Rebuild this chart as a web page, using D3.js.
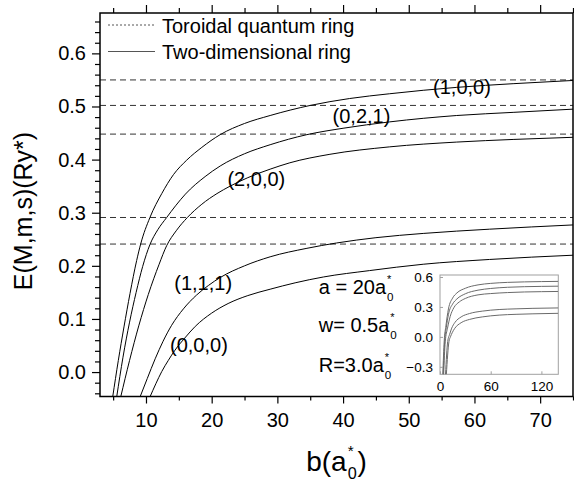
<!DOCTYPE html>
<html>
<head>
<meta charset="utf-8">
<script src="https://cdn.jsdelivr.net/npm/d3@7"></script>
<style>
  body { margin: 0; background: #fff; }
  svg { display: block; font-family: "Liberation Sans", Arial, sans-serif; }
</style>
</head>
<body>
<svg id="chart" width="574" height="487"></svg>
<script>
// Toroidal quantum ring levels (dashed, flat)
const toroidalLevels = [0.550, 0.502, 0.448, 0.291, 0.241];

// Two-dimensional ring, [b, E]
const ring100 = [[4.93,-0.047],[5.79,0.022],[6.65,0.085],[7.57,0.148],[8.58,0.21],[9.19,0.241],[10.6,0.291],[12.4,0.336],[14.2,0.372],[16.2,0.399],[18.5,0.423],[21.3,0.447],[25,0.468],[28.9,0.483],[35,0.502],[41,0.515],[47.1,0.524],[57.3,0.536],[66,0.543],[75,0.549]];
const ring021 = [[5.54,-0.047],[6.5,0.028],[7.5,0.094],[8.5,0.150],[9.5,0.199],[10.6,0.240],[11.8,0.268],[13.15,0.291],[14.5,0.313],[16,0.335],[19,0.368],[21.3,0.388],[25,0.411],[28.9,0.428],[34.5,0.447],[40,0.459],[47.1,0.471],[57.3,0.483],[66,0.489],[75,0.495]];
const ring200 = [[6.15,-0.047],[7.5,0.022],[8.9,0.087],[10.35,0.146],[12,0.203],[13.15,0.238],[14.6,0.266],[16.3,0.291],[18.5,0.316],[20.8,0.336],[22.8,0.350],[25.5,0.366],[28.9,0.382],[31.9,0.394],[38,0.410],[47.1,0.424],[57.3,0.433],[66,0.438],[75,0.442]];
const ring111 = [[9.09,-0.047],[10.2,-0.012],[11.4,0.025],[12.6,0.058],[13.9,0.088],[15.7,0.119],[17.7,0.145],[19.5,0.163],[21.3,0.178],[25,0.200],[28.9,0.217],[34.5,0.233],[39,0.243],[45,0.253],[52.2,0.261],[62.3,0.269],[75,0.277]];
const ring000 = [[10.6,-0.047],[11.5,-0.022],[12.4,0.001],[13.4,0.022],[14.4,0.041],[15.9,0.064],[17.5,0.086],[20,0.111],[22.5,0.129],[25.5,0.144],[28.9,0.156],[32.7,0.168],[37,0.179],[44,0.191],[52.2,0.203],[62.3,0.212],[75,0.220]];

// curve labels and where they sit (data units: b, E)
const curveLabels = ["(1,0,0)", "(0,2,1)", "(2,0,0)", "(1,1,1)", "(0,0,0)"];
const labelB = [53.7, 38.4, 22.4, 14.3, 13.66];
const labelE = [0.5226, 0.468, 0.3494, 0.1546, 0.0369];

// inset: same curves out to b = 140
const inset100 = [[3.3,-0.38],[5,-0.04],[7,0.11],[10,0.28],[15,0.39],[20,0.44],[30,0.487],[45,0.521],[60,0.536],[80,0.546],[100,0.551],[120,0.554],[140,0.556]];
const inset021 = [[3.8,-0.38],[5.5,-0.05],[7.5,0.094],[10,0.225],[15,0.33],[20,0.38],[30,0.432],[45,0.468],[60,0.485],[80,0.497],[100,0.503],[120,0.506],[140,0.508]];
const inset200 = [[4.3,-0.38],[6.2,-0.05],[8.9,0.087],[12,0.203],[16.3,0.291],[22.8,0.35],[30,0.385],[45,0.421],[60,0.434],[80,0.444],[100,0.45],[120,0.453],[140,0.455]];
const inset111 = [[6.5,-0.38],[9.1,-0.047],[11.4,0.025],[13.9,0.088],[17.7,0.145],[25,0.2],[35,0.234],[50,0.258],[70,0.274],[90,0.281],[110,0.286],[140,0.29]];
const inset000 = [[7.5,-0.38],[10.6,-0.047],[12.4,0.001],[14.4,0.041],[17.5,0.086],[25,0.142],[35,0.175],[50,0.2],[70,0.218],[90,0.226],[110,0.231],[140,0.236]];

// ticks
const xMajor = [10, 20, 30, 40, 50, 60, 70];
const xMinor = [5, 15, 25, 35, 45, 55, 65, 75];
const yMajor = [0.0, 0.1, 0.2, 0.3, 0.4, 0.5, 0.6];
const insetXTicks = [0, 60, 120];
const insetYTicks = [-0.3, 0.0, 0.3, 0.6];

const legendItems = ["Toroidal quantum ring", "Two-dimensional ring"];
const paramText = ["a = 20a", "w= 0.5a", "R=3.0a"];

const svg = d3.select("#chart");

// main scales
const x = d3.scaleLinear().domain([3, 75]).range([100, 573]);
const y = d3.scaleLinear().domain([-0.046, 0.676]).range([396.5, 13]);

svg.append("clipPath").attr("id", "plotClip")
  .append("rect")
  .attr("x", x.range()[0]).attr("y", y.range()[1])
  .attr("width", x.range()[1] - x.range()[0])
  .attr("height", y.range()[0] - y.range()[1]);

// minor y ticks every 0.02 (not on the majors)
const yMinor = d3.range(-4, 67, 2).filter(d => d % 10 !== 0).map(d => d / 100);

function styleAxis(g) {
  g.select(".domain").remove();
  g.selectAll("line").attr("stroke", "#000").attr("stroke-width", 1.2);
  g.selectAll("text").attr("fill", "#000").attr("font-size", 20);
}

// bottom axis
svg.append("g").attr("transform", `translate(0,${y.range()[0]})`)
  .call(d3.axisBottom(x).tickValues(xMinor).tickSize(4).tickFormat(""))
  .call(styleAxis);
svg.append("g").attr("transform", `translate(0,${y.range()[0]})`)
  .call(d3.axisBottom(x).tickValues(xMajor).tickSize(7).tickPadding(9).tickFormat(d3.format("d")))
  .call(styleAxis);

// top axis (ticks only)
svg.append("g").attr("transform", `translate(0,${y.range()[1]})`)
  .call(d3.axisTop(x).tickValues(xMinor).tickSize(5).tickFormat(""))
  .call(styleAxis);
svg.append("g").attr("transform", `translate(0,${y.range()[1]})`)
  .call(d3.axisTop(x).tickValues(xMajor).tickSize(8).tickFormat(""))
  .call(styleAxis);

// left axis
svg.append("g").attr("transform", `translate(${x.range()[0]},0)`)
  .call(d3.axisLeft(y).tickValues(yMinor).tickSize(5).tickFormat(""))
  .call(styleAxis);
svg.append("g").attr("transform", `translate(${x.range()[0]},0)`)
  .call(d3.axisLeft(y).tickValues(yMajor).tickSize(8).tickPadding(6).tickFormat(d3.format(".1f")))
  .call(styleAxis);

// toroidal levels
const plot = svg.append("g").attr("clip-path", "url(#plotClip)");
plot.selectAll("line.toroidal")
  .data(toroidalLevels)
  .join("line")
  .attr("class", "toroidal")
  .attr("x1", x.range()[0]).attr("x2", x.range()[1])
  .attr("y1", d => y(d)).attr("y2", d => y(d))
  .attr("stroke", "#333")
  .attr("stroke-width", 1)
  .attr("stroke-dasharray", "6,4");

// 2D ring curves
const line = d3.line().x(d => x(d[0])).y(d => y(d[1])).curve(d3.curveMonotoneX);
plot.selectAll("path.ring")
  .data([ring100, ring021, ring200, ring111, ring000])
  .join("path")
  .attr("class", "ring")
  .attr("d", line)
  .attr("fill", "none")
  .attr("stroke", "#000")
  .attr("stroke-width", 1);

// frame
svg.append("rect")
  .attr("x", x.range()[0]).attr("y", y.range()[1])
  .attr("width", x.range()[1] - x.range()[0])
  .attr("height", y.range()[0] - y.range()[1])
  .attr("fill", "none").attr("stroke", "#000").attr("stroke-width", 1.5);

// curve labels
svg.selectAll("text.curveLabel")
  .data(curveLabels)
  .join("text")
  .attr("class", "curveLabel")
  .attr("x", (d, i) => x(labelB[i]))
  .attr("y", (d, i) => y(labelE[i]))
  .attr("font-size", 20)
  .text(d => d);

// legend
const legend = svg.append("g");
legend.append("line").attr("x1", 108).attr("x2", 155).attr("y1", 25).attr("y2", 25)
  .attr("stroke", "#555").attr("stroke-width", 1).attr("stroke-dasharray", "2,2");
legend.append("line").attr("x1", 108).attr("x2", 155).attr("y1", 51.5).attr("y2", 51.5)
  .attr("stroke", "#555").attr("stroke-width", 1);
legend.selectAll("text")
  .data(legendItems)
  .join("text")
  .attr("x", 162)
  .attr("y", (d, i) => 33 + i * 26)
  .attr("font-size", 20)
  .text(d => d);

// text with a stacked * and 0 after it (a*0)
function starSub(g, x0, y0, txt, size, tail, subDy) {
  const t = g.append("text").attr("x", x0).attr("y", y0).attr("font-size", size).text(txt);
  const w = t.node().getComputedTextLength();
  g.append("text").attr("x", x0 + w + 1).attr("y", y0 - size * 0.54)
    .attr("font-size", size * 0.55).text("*");
  g.append("text").attr("x", x0 + w + 1).attr("y", y0 + size * (subDy || 0.38))
    .attr("font-size", size * 0.58).text("0");
  if (tail) {
    g.append("text").attr("x", x0 + w + 1 + size * 0.35).attr("y", y0)
      .attr("font-size", size).text(tail);
  }
  return w;
}

// parameters
const params = svg.append("g");
paramText.forEach((s, i) => {
  starSub(params, x(36.3), y([0.1475, 0.076, 0.0006][i]), s, 20);
});

// axis titles
const xt = svg.append("g");
starSub(xt, 0, 471, "b(a", 28, ")", 0.3);
const xtBox = xt.node().getBBox();
xt.attr("transform", `translate(${(x.range()[0] + x.range()[1]) / 2 - xtBox.width / 2},0)`);

svg.append("text")
  .attr("transform", "translate(32,211) rotate(-90)")
  .attr("text-anchor", "middle")
  .attr("font-size", 25)
  .text("E(M,m,s)(Ry*)");

// inset
const ix = d3.scaleLinear().domain([0, 140]).range([440, 558.3]);
const iy = d3.scaleLinear().domain([-0.375, 0.62]).range([374.3, 275]);

svg.append("clipPath").attr("id", "insetClip")
  .append("rect")
  .attr("x", ix.range()[0]).attr("y", iy.range()[1])
  .attr("width", ix.range()[1] - ix.range()[0])
  .attr("height", iy.range()[0] - iy.range()[1]);

const inset = svg.append("g");
inset.append("rect")
  .attr("x", ix.range()[0]).attr("y", iy.range()[1])
  .attr("width", ix.range()[1] - ix.range()[0])
  .attr("height", iy.range()[0] - iy.range()[1])
  .attr("fill", "#fff").attr("stroke", "#a0a0a0").attr("stroke-width", 1);

const iline = d3.line().x(d => ix(d[0])).y(d => iy(d[1])).curve(d3.curveMonotoneX);
inset.append("g").attr("clip-path", "url(#insetClip)")
  .selectAll("path")
  .data([inset100, inset021, inset200, inset111, inset000])
  .join("path")
  .attr("d", iline)
  .attr("fill", "none")
  .attr("stroke", "#6a6a6a")
  .attr("stroke-width", 1);

function styleInset(g) {
  g.select(".domain").remove();
  g.selectAll("line").attr("stroke", "#a0a0a0");
  g.selectAll("text").attr("fill", "#000").attr("font-size", 13.5);
}
inset.append("g").attr("transform", `translate(0,${iy.range()[0]})`)
  .call(d3.axisBottom(ix).tickValues(insetXTicks).tickSize(-3).tickPadding(7).tickFormat(d3.format("d")))
  .call(styleInset);
inset.append("g").attr("transform", `translate(${ix.range()[0]},0)`)
  .call(d3.axisLeft(iy).tickValues(insetYTicks).tickSize(-3).tickPadding(7).tickFormat(d3.format(".1f")))
  .call(styleInset);
</script>
</body>
</html>
